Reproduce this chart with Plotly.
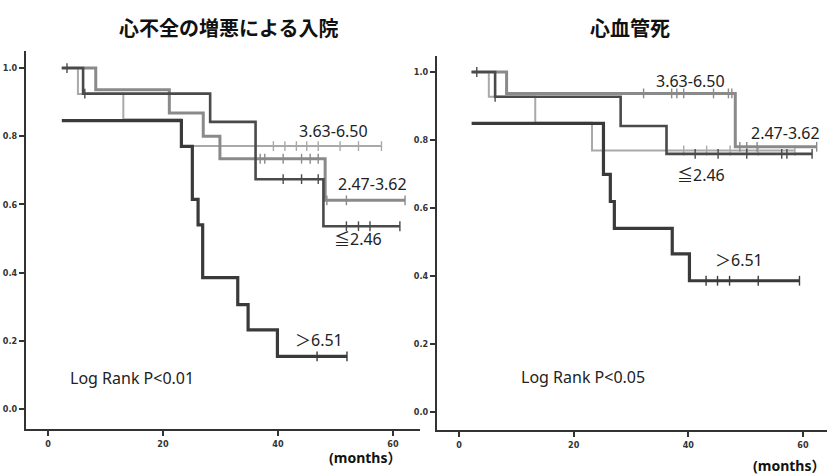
import plotly.graph_objects as go

# ---------------- data (months, survival) ----------------
# Left panel: 心不全の増悪による入院
L_gt651_t = [2.4, 23.2, 25.1, 26.1, 26.9, 33.0, 34.8, 39.9, 52.0]
L_gt651_s = [0.846, 0.770, 0.615, 0.540, 0.385, 0.306, 0.232, 0.154, 0.154]
L_gt651_c = [46.8, 52.0]

L_le246_t = [2.4, 6.1, 28.2, 36.1, 47.9, 61.2]
L_le246_s = [1.0, 0.925, 0.842, 0.674, 0.536, 0.536]
L_le246_c = [3.3, 6.4, 40.9, 44.1, 47.0, 51.9, 54.0, 56.0, 61.2]

L_247_t = [2.4, 8.3, 21.1, 27.0, 29.9, 48.2, 62.1]
L_247_s = [1.0, 0.936, 0.868, 0.800, 0.734, 0.612, 0.612]
L_247_c = [36.9, 37.7, 40.9, 44.1, 45.6, 47.0, 48.5, 51.9, 62.1]

L_363_t = [2.4, 5.2, 13.1, 23.2, 58.0]
L_363_s = [1.0, 0.924, 0.850, 0.771, 0.771]
L_363_c = [39.2, 41.2, 43.2, 45.0, 47.0, 50.8, 54.0, 58.0]

# Right panel: 心血管死
R_gt651_t = [2.2, 25.2, 26.4, 27.1, 37.2, 40.2, 59.4]
R_gt651_s = [0.849, 0.699, 0.619, 0.540, 0.465, 0.386, 0.386]
R_gt651_c = [43.1, 45.1, 47.2, 52.2, 59.4]

R_le246_t = [2.2, 6.3, 28.2, 36.2, 61.6]
R_le246_s = [1.0, 0.927, 0.841, 0.759, 0.759]
R_le246_c = [3.1, 6.3, 41.2, 45.2, 50.2, 56.3, 57.2, 61.6]

R_247_t = [2.2, 8.3, 48.2, 62.4]
R_247_s = [1.0, 0.937, 0.780, 0.780]
R_247_c = [32.2, 37.1, 38.0, 39.2, 44.4, 47.0, 47.6, 49.0, 50.2, 52.0, 62.4]

R_363_t = [2.2, 5.2, 13.3, 23.2, 58.6]
R_363_s = [1.0, 0.927, 0.851, 0.769, 0.769]
R_363_c = [39.2, 43.2, 47.3, 52.2, 58.6]

y_tick_vals = [0.0, 0.2, 0.4, 0.6, 0.8, 1.0]
y_tick_text = ["0.0", "0.2", "0.4", "0.6", "0.8", "1.0"]
x_tick_vals = [0, 20, 40, 60]

titles = ["心不全の増悪による入院", "心血管死"]
p_texts = ["Log Rank P<0.01", "Log Rank P<0.05"]

# ---------------- helpers ----------------
def surv_at(t_list, s_list, t):
    val = s_list[0]
    for ti, si in zip(t_list, s_list):
        if ti <= t + 1e-9:
            val = si
    return val

styles = {
    "363": dict(color="#a9a9a9", width=2.0),
    "247": dict(color="#8a8a8a", width=3.0),
    "le246": dict(color="#4a4a4a", width=2.6),
    "gt651": dict(color="#3a3a3a", width=3.2),
}

fig = go.Figure()

def add_series(t, s, c, key, xa, ya):
    st = styles[key]
    fig.add_trace(go.Scatter(x=t, y=s, mode="lines", line=dict(shape="hv", color=st["color"], width=st["width"]),
                             xaxis=xa, yaxis=ya, showlegend=False, hoverinfo="skip"))
    fig.add_trace(go.Scatter(x=c, y=[surv_at(t, s, ci) for ci in c], mode="markers",
                             marker=dict(symbol="line-ns", size=7, line=dict(color=st["color"], width=1.4)),
                             xaxis=xa, yaxis=ya, showlegend=False, hoverinfo="skip"))

add_series(L_363_t, L_363_s, L_363_c, "363", "x", "y")
add_series(L_247_t, L_247_s, L_247_c, "247", "x", "y")
add_series(L_le246_t, L_le246_s, L_le246_c, "le246", "x", "y")
add_series(L_gt651_t, L_gt651_s, L_gt651_c, "gt651", "x", "y")

add_series(R_363_t, R_363_s, R_363_c, "363", "x2", "y2")
add_series(R_247_t, R_247_s, R_247_c, "247", "x2", "y2")
add_series(R_le246_t, R_le246_s, R_le246_c, "le246", "x2", "y2")
add_series(R_gt651_t, R_gt651_s, R_gt651_c, "gt651", "x2", "y2")

tickfont = dict(family="DejaVu Sans Condensed", size=9, color="#333", weight="bold")
axis_common = dict(showline=True, linecolor="#333", linewidth=2, ticks="outside", ticklen=5,
                   tickwidth=1.5, tickcolor="#333", showgrid=False, zeroline=False, tickfont=tickfont,
                   automargin=False)

fig.update_layout(
    width=827, height=475,
    margin=dict(l=0, r=0, t=0, b=0, autoexpand=False),
    paper_bgcolor="white", plot_bgcolor="white",
    xaxis=dict(domain=[26/827, 420/827], range=[-3.83, 64.7], anchor="y", tickvals=x_tick_vals, **axis_common),
    yaxis=dict(domain=[46/475, 424/475], range=[-0.0588, 1.05], anchor="x", tickvals=y_tick_vals,
               ticktext=y_tick_text, **axis_common),
    xaxis2=dict(domain=[437/827, 1.0], range=[-3.84, 64.2], anchor="y2", tickvals=x_tick_vals, **axis_common),
    yaxis2=dict(domain=[45/475, 419/475], range=[-0.053, 1.047], anchor="x2", tickvals=y_tick_vals,
                ticktext=y_tick_text, **axis_common),
)

lab_font = dict(family="Noto Sans, Noto Sans CJK JP", size=16, color="#222")
anns = [
    # left panel labels
    dict(x=49.6, y=0.815, xref="x", yref="y", text="3.63-6.50"),
    dict(x=56.4, y=0.659, xref="x", yref="y", text="2.47-3.62"),
    dict(x=53.9, y=0.500, xref="x", yref="y", text="≦2.46"),
    dict(x=47.1, y=0.203, xref="x", yref="y", text="＞6.51"),
    dict(x=14.6, y=0.090, xref="x", yref="y", text=p_texts[0]),
    # right panel labels
    dict(x=40.3, y=0.974, xref="x2", yref="y2", text="3.63-6.50"),
    dict(x=56.9, y=0.820, xref="x2", yref="y2", text="2.47-3.62"),
    dict(x=42.2, y=0.697, xref="x2", yref="y2", text="≦2.46"),
    dict(x=48.9, y=0.447, xref="x2", yref="y2", text="＞6.51"),
    dict(x=21.6, y=0.104, xref="x2", yref="y2", text=p_texts[1]),
]
for a in anns:
    fig.add_annotation(showarrow=False, font=lab_font, xanchor="center", yanchor="middle", **a)

title_font = dict(family="Noto Sans CJK JP", size=20, color="#111", weight="bold")
fig.add_annotation(x=228/827, y=(475-27)/475, xref="paper", yref="paper", text=titles[0], showarrow=False,
                   font=title_font, xanchor="center", yanchor="middle")
fig.add_annotation(x=630/827, y=(475-27)/475, xref="paper", yref="paper", text=titles[1], showarrow=False,
                   font=title_font, xanchor="center", yanchor="middle")

months_font = dict(family="Noto Sans, Noto Sans CJK JP", size=14, color="#111", weight="bold")
fig.add_annotation(x=365/827, y=(475-457)/475, xref="paper", yref="paper", text="(months）", showarrow=False,
                   font=months_font, xanchor="center", yanchor="middle")
fig.add_annotation(x=1.0, y=(475-465)/475, xref="paper", yref="paper", text="(months）", showarrow=False,
                   font=months_font, xanchor="right", yanchor="middle")

fig.write_html("out.html", config={"displayModeBar": False},
               post_script="document.body.style.margin='0px';")
